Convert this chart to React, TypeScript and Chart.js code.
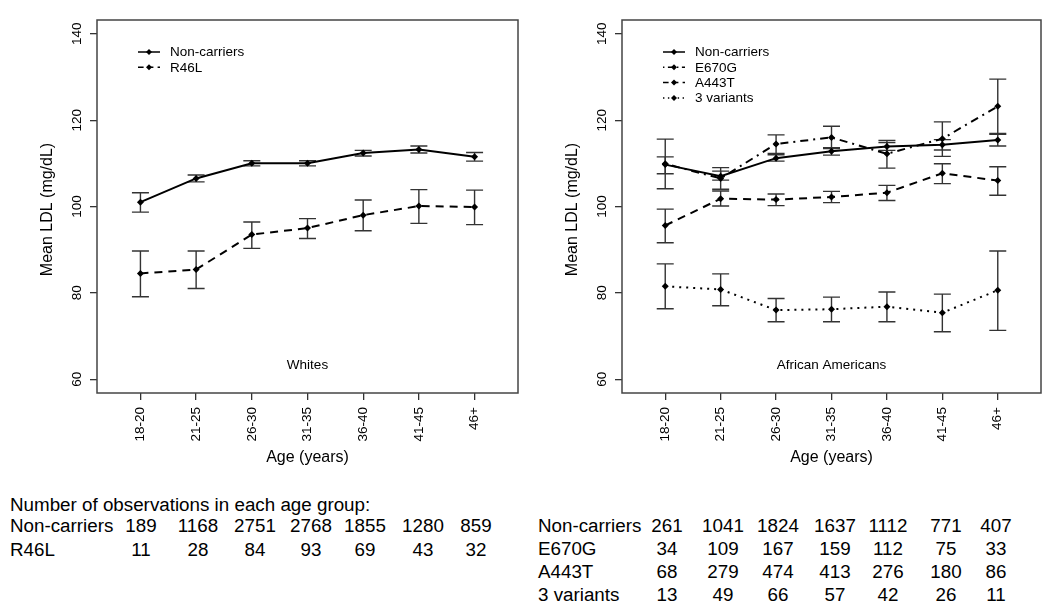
import React, { useEffect, useRef } from "react";
import { Chart, registerables } from "chart.js";

Chart.register(...registerables);

// ---------- data ----------
const ageGroups = ["18-20", "21-25", "26-30", "31-35", "36-40", "41-45", "46+"];
const yTickValues = [60, 80, 100, 120, 140];

// Whites
const whNonCarriersMean = [101.0, 106.5, 110.0, 110.0, 112.4, 113.2, 111.5];
const whNonCarriersLo = [98.7, 105.7, 109.4, 109.4, 111.7, 112.4, 110.5];
const whNonCarriersHi = [103.2, 107.3, 110.6, 110.6, 113.0, 114.0, 112.5];

const whR46LMean = [84.5, 85.4, 93.5, 95.0, 98.0, 100.1, 99.9];
const whR46LLo = [79.1, 81.0, 90.3, 92.6, 94.4, 96.1, 95.8];
const whR46LHi = [89.7, 89.7, 96.4, 97.2, 101.5, 103.9, 103.8];

// African Americans
const aaNonCarriersMean = [109.7, 107.0, 111.2, 112.8, 113.9, 114.3, 115.4];
const aaNonCarriersLo = [107.6, 106.1, 110.5, 111.9, 113.0, 113.1, 114.0];
const aaNonCarriersHi = [111.5, 108.2, 112.0, 113.6, 114.8, 115.5, 116.7];

const aaE670GMean = [109.9, 106.5, 114.5, 116.0, 112.2, 115.7, 123.2];
const aaE670GLo = [104.1, 104.0, 112.3, 113.4, 108.9, 111.6, 116.9];
const aaE670GHi = [115.6, 109.0, 116.6, 118.6, 115.3, 119.6, 129.5];

const aaA443TMean = [95.6, 101.8, 101.6, 102.2, 103.2, 107.7, 106.0];
const aaA443TLo = [91.6, 100.1, 100.2, 100.9, 101.4, 105.3, 102.6];
const aaA443THi = [99.4, 103.6, 102.9, 103.5, 104.9, 109.9, 109.2];

const aa3VarMean = [81.5, 80.8, 76.0, 76.2, 76.8, 75.4, 80.6];
const aa3VarLo = [76.3, 77.0, 73.3, 73.3, 73.3, 71.0, 71.3];
const aa3VarHi = [86.7, 84.4, 78.7, 79.0, 80.2, 79.7, 89.7];

// Counts table
const whCountNonCarriers = [189, 1168, 2751, 2768, 1855, 1280, 859];
const whCountR46L = [11, 28, 84, 93, 69, 43, 32];
const aaCountNonCarriers = [261, 1041, 1824, 1637, 1112, 771, 407];
const aaCountE670G = [34, 109, 167, 159, 112, 75, 33];
const aaCountA443T = [68, 279, 474, 413, 276, 180, 86];
const aaCount3Var = [13, 49, 66, 57, 42, 26, 11];

// ---------- styles ----------
const FONT = "'Liberation Sans', Arial, Helvetica, sans-serif";
const SOLID: number[] = [];
const DASHED = [8, 6];
const DASHDOT = [2, 5, 8, 5];
const DOTTED = [2, 5];

type Series = { label: string; mean: number[]; lo: number[]; hi: number[]; dash: number[] };

const whitesSeries: Series[] = [
  { label: "Non-carriers", mean: whNonCarriersMean, lo: whNonCarriersLo, hi: whNonCarriersHi, dash: SOLID },
  { label: "R46L", mean: whR46LMean, lo: whR46LLo, hi: whR46LHi, dash: DASHED },
];
const aaSeries: Series[] = [
  { label: "Non-carriers", mean: aaNonCarriersMean, lo: aaNonCarriersLo, hi: aaNonCarriersHi, dash: SOLID },
  { label: "E670G", mean: aaE670GMean, lo: aaE670GLo, hi: aaE670GHi, dash: DASHDOT },
  { label: "A443T", mean: aaA443TMean, lo: aaA443TLo, hi: aaA443THi, dash: DASHED },
  { label: "3 variants", mean: aa3VarMean, lo: aa3VarLo, hi: aa3VarHi, dash: DOTTED },
];

function diamond(ctx: CanvasRenderingContext2D, x: number, y: number, r: number) {
  ctx.beginPath();
  ctx.moveTo(x, y - r);
  ctx.lineTo(x + r, y);
  ctx.lineTo(x, y + r);
  ctx.lineTo(x - r, y);
  ctx.closePath();
  ctx.fill();
}

function makePanelPlugin(series: Series[], panelLabel: string) {
  return {
    id: "panel",
    beforeDatasetsDraw(chart: any) {
      const ctx = chart.ctx as CanvasRenderingContext2D;
      const xs = chart.scales.x;
      const ys = chart.scales.y;
      ctx.save();
      ctx.strokeStyle = "#333";
      ctx.lineWidth = 1.4;
      ctx.setLineDash([]);
      series.forEach((s) => {
        s.mean.forEach((_, j) => {
          const x = xs.getPixelForValue(j + 1);
          const y1 = ys.getPixelForValue(s.lo[j]);
          const y2 = ys.getPixelForValue(s.hi[j]);
          ctx.beginPath();
          ctx.moveTo(x, y1);
          ctx.lineTo(x, y2);
          ctx.moveTo(x - 8.5, y1);
          ctx.lineTo(x + 8.5, y1);
          ctx.moveTo(x - 8.5, y2);
          ctx.lineTo(x + 8.5, y2);
          ctx.stroke();
        });
      });
      ctx.restore();
    },
    afterDraw(chart: any) {
      const ctx = chart.ctx as CanvasRenderingContext2D;
      const { left, right, top, bottom } = chart.chartArea;
      const xs = chart.scales.x;
      const ys = chart.scales.y;
      ctx.save();
      // box
      ctx.strokeStyle = "#444";
      ctx.lineWidth = 1.5;
      ctx.setLineDash([]);
      ctx.strokeRect(left, top, right - left, bottom - top);

      ctx.fillStyle = "#000";
      // y tick labels (rotated)
      ctx.font = `13.5px ${FONT}`;
      yTickValues.forEach((v) => {
        const y = ys.getPixelForValue(v);
        ctx.save();
        ctx.translate(left - 20, y);
        ctx.rotate(-Math.PI / 2);
        ctx.textAlign = "center";
        ctx.textBaseline = "middle";
        ctx.fillText(String(v), 0, 0);
        ctx.restore();
      });
      // x tick labels (rotated)
      ageGroups.forEach((g, i) => {
        const x = xs.getPixelForValue(i + 1);
        ctx.save();
        ctx.translate(x, bottom + 14);
        ctx.rotate(-Math.PI / 2);
        ctx.textAlign = "right";
        ctx.textBaseline = "middle";
        ctx.fillText(g, 0, 0);
        ctx.restore();
      });
      // axis titles
      ctx.font = `16px ${FONT}`;
      ctx.save();
      ctx.translate(left - 49, (top + bottom) / 2 + 3);
      ctx.rotate(-Math.PI / 2);
      ctx.textAlign = "center";
      ctx.textBaseline = "middle";
      ctx.fillText("Mean LDL (mg/dL)", 0, 0);
      ctx.restore();
      ctx.textAlign = "center";
      ctx.textBaseline = "middle";
      ctx.fillText("Age (years)", (left + right) / 2, bottom + 65);

      // panel label
      ctx.font = `13.5px ${FONT}`;
      ctx.fillText(panelLabel, xs.getPixelForValue(4), ys.getPixelForValue(63.2));

      // legend
      ctx.textAlign = "left";
      series.forEach((s, k) => {
        const y = top + 32 + k * 15.3;
        const x0 = left + 41;
        const x1 = left + 63;
        ctx.strokeStyle = "#000";
        ctx.lineWidth = 1.5;
        ctx.setLineDash(s.dash.map((d) => d * 0.7));
        ctx.beginPath();
        ctx.moveTo(x0, y);
        ctx.lineTo(x1, y);
        ctx.stroke();
        ctx.setLineDash([]);
        ctx.fillStyle = "#000";
        diamond(ctx, (x0 + x1) / 2, y, 3);
        ctx.fillText(s.label, left + 73, y + 0.5);
      });
      ctx.restore();
    },
  };
}

function makeChart(canvas: HTMLCanvasElement, series: Series[], panelLabel: string, padRight: number) {
  return new Chart(canvas, {
    type: "line",
    data: {
      datasets: series.map((s) => ({
        label: s.label,
        data: s.mean.map((v, j) => ({ x: j + 1, y: v })),
        borderColor: "#000",
        borderWidth: 2,
        borderDash: s.dash,
        pointStyle: "rectRot",
        pointRadius: 3.5,
        pointBackgroundColor: "#000",
        pointBorderColor: "#000",
        pointBorderWidth: 0,
        fill: false,
        tension: 0,
      })),
    },
    options: {
      responsive: false,
      maintainAspectRatio: false,
      animation: false,
      events: [],
      layout: { padding: { left: 0, top: 20, right: padRight, bottom: 0 } },
      plugins: { legend: { display: false }, tooltip: { enabled: false } },
      scales: {
        x: {
          type: "linear",
          min: 0.22,
          max: 7.78,
          afterBuildTicks: (s: any) => {
            s.ticks = ageGroups.map((_, i) => ({ value: i + 1 }));
          },
          afterFit: (s: any) => {
            s.height = 87;
          },
          ticks: { display: false },
          grid: { drawOnChartArea: false, drawTicks: true, tickLength: 7, color: "#333", lineWidth: 1.3 },
          border: { display: false },
        },
        y: {
          type: "linear",
          min: 56.8,
          max: 143.2,
          afterBuildTicks: (s: any) => {
            s.ticks = yTickValues.map((v) => ({ value: v }));
          },
          afterFit: (s: any) => {
            s.width = 97;
          },
          ticks: { display: false },
          grid: { drawOnChartArea: false, drawTicks: true, tickLength: 7, color: "#333", lineWidth: 1.3 },
          border: { display: false },
        },
      },
    } as any,
    plugins: [makePanelPlugin(series, panelLabel) as any],
  });
}

const textStyle: React.CSSProperties = {
  position: "absolute",
  fontFamily: FONT,
  fontSize: "18.8px",
  color: "#000",
  whiteSpace: "nowrap",
  lineHeight: "20px",
};

const leftCols = [141, 198, 255, 311, 365, 423, 476];
const rightCols = [667, 723, 778, 835, 888, 946, 996];

function Row({ label, counts, labelX, cols, y }: { label: string; counts: number[]; labelX: number; cols: number[]; y: number }) {
  return (
    <>
      <div style={{ ...textStyle, left: labelX, top: y - 10 }}>{label}</div>
      {counts.map((c, i) => (
        <div key={i} style={{ ...textStyle, left: cols[i], top: y - 10, transform: "translateX(-50%)" }}>
          {c}
        </div>
      ))}
    </>
  );
}

export default function App() {
  const leftRef = useRef<HTMLCanvasElement>(null);
  const rightRef = useRef<HTMLCanvasElement>(null);

  useEffect(() => {
    document.body.style.margin = "0";
    const c1 = makeChart(leftRef.current!, whitesSeries, "Whites", 7);
    const c2 = makeChart(rightRef.current!, aaSeries, "African Americans", 9);
    return () => {
      c1.destroy();
      c2.destroy();
    };
  }, []);

  return (
    <div style={{ position: "fixed", left: 0, top: 0, width: 1050, height: 615, background: "#fff", overflow: "hidden" }}>
      <canvas ref={leftRef} width={525} height={480} style={{ position: "absolute", left: 0, top: 0, width: 525, height: 480 }} />
      <canvas ref={rightRef} width={525} height={480} style={{ position: "absolute", left: 525, top: 0, width: 525, height: 480 }} />
      <div style={{ ...textStyle, left: 10, top: 495 }}>Number of observations in each age group:</div>
      <Row label="Non-carriers" counts={whCountNonCarriers} labelX={10} cols={leftCols} y={526} />
      <Row label="R46L" counts={whCountR46L} labelX={10} cols={leftCols} y={550} />
      <Row label="Non-carriers" counts={aaCountNonCarriers} labelX={538} cols={rightCols} y={526} />
      <Row label="E670G" counts={aaCountE670G} labelX={538} cols={rightCols} y={549} />
      <Row label="A443T" counts={aaCountA443T} labelX={538} cols={rightCols} y={572} />
      <Row label="3 variants" counts={aaCount3Var} labelX={538} cols={rightCols} y={595} />
    </div>
  );
}
